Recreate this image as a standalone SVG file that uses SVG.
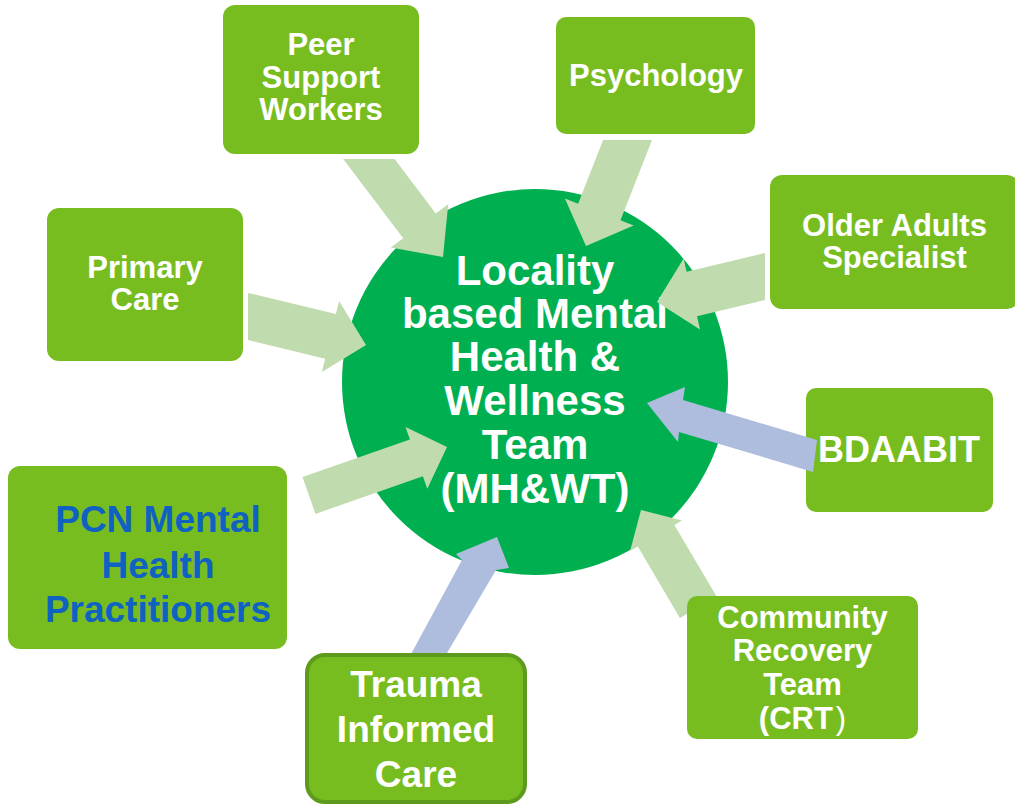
<svg xmlns="http://www.w3.org/2000/svg" width="1015" height="806" viewBox="0 0 1015 806">
<style>
.box{fill:#78BD20;}
.lbl{font-family:"Liberation Sans",Arial,sans-serif;font-weight:bold;fill:#ffffff;text-anchor:middle;}
.blue{fill:#0F62C2;}
.la{fill:#C0DCAF;}
.ba{fill:#AEBCDE;}
</style>
<rect width="1015" height="806" fill="#ffffff"/>
<g id="hub">
<circle cx="535" cy="382" r="193" fill="#00B050"/>
<text class="lbl" font-size="42" x="535" y="285">Locality</text>
<text class="lbl" font-size="42" x="535" y="328">based Mental</text>
<text class="lbl" font-size="42" x="535" y="371">Health &amp;</text>
<text class="lbl" font-size="42" x="535" y="415">Wellness</text>
<text class="lbl" font-size="42" x="535" y="459">Team</text>
<text class="lbl" font-size="42" x="535" y="503">(MH&amp;WT)</text>
</g>
<g id="bdaabit">
<rect class="box" x="806" y="388" width="187" height="124" rx="10"/>
<text class="lbl" font-size="36" x="899" y="462">BDAABIT</text>
</g>
<g id="connectors">
<polygon class="la" points="343.2,159 394.6,159 435.8,213.5 448.2,204.2 443,257 390.8,247.6 403.2,238.3"/>
<polygon class="la" points="603.1,140 652,140 620.5,220.3 633.7,225.5 586,246 564.9,198.5 578.1,203.7"/>
<polygon class="la" points="248,292.9 335.9,314.1 339.1,300.9 366,345 321.9,371.9 325.1,358.7 248,340.1"/>
<polygon class="la" points="302.5,477.1 409.9,439.4 405.5,426.9 447,447 427.3,488.7 422.9,476.2 315.5,513.9"/>
<polygon class="la" points="765,253 686.6,271.7 683.6,258.5 657,302 700,329.5 697,316.3 765,300"/>
<polygon class="la" points="679.9,618 637.8,546.5 630.1,551 641,510 682.1,520.4 674.4,524.9 716.9,597"/>
<polygon class="ba" points="402.4,670 462,560 456,554 497,537 509,568 496,570 437,670"/>
<polygon class="ba" points="817,440 683,400 685,387 647,403 678,442 679,432 813,472"/>
</g>
<g id="peer">
<rect class="box" x="223" y="5" width="196" height="149" rx="12"/>
<text class="lbl" font-size="31" x="321" y="55">Peer</text>
<text class="lbl" font-size="31" x="321" y="88">Support</text>
<text class="lbl" font-size="31" x="321" y="120">Workers</text>
</g>
<g id="psychology">
<rect class="box" x="556" y="17" width="199" height="117" rx="10"/>
<text class="lbl" font-size="31" x="656" y="86">Psychology</text>
</g>
<g id="primary">
<rect class="box" x="47" y="208" width="196" height="153" rx="12"/>
<text class="lbl" font-size="31" x="145" y="278">Primary</text>
<text class="lbl" font-size="31" x="145" y="310">Care</text>
</g>
<g id="older">
<rect class="box" x="770" y="175" width="249" height="134" rx="12"/>
<text class="lbl" font-size="31" x="894.5" y="236">Older Adults</text>
<text class="lbl" font-size="31" x="894.5" y="268">Specialist</text>
</g>
<g id="pcn">
<rect class="box" x="8" y="466" width="279" height="183" rx="12"/>
<text class="lbl blue" font-size="37" x="158" y="532">PCN Mental</text>
<text class="lbl blue" font-size="37" x="158" y="578">Health</text>
<text class="lbl blue" font-size="37" x="158" y="622">Practitioners</text>
</g>
<g id="crt">
<rect class="box" x="687" y="596" width="231" height="143" rx="10"/>
<text class="lbl" font-size="31" x="802.5" y="628">Community</text>
<text class="lbl" font-size="31" x="802.5" y="661">Recovery</text>
<text class="lbl" font-size="31" x="802.5" y="695">Team</text>
<text class="lbl" font-size="31" x="802.5" y="729">(CRT<tspan font-weight="normal" dx="3">)</tspan></text>
</g>
<g id="trauma">
<rect class="box" x="307" y="655" width="218" height="147" rx="18" stroke="#5E9A1E" stroke-width="4"/>
<text class="lbl" font-size="37" x="416" y="697">Trauma</text>
<text class="lbl" font-size="37" x="416" y="742">Informed</text>
<text class="lbl" font-size="37" x="416" y="787">Care</text>
</g>
</svg>
